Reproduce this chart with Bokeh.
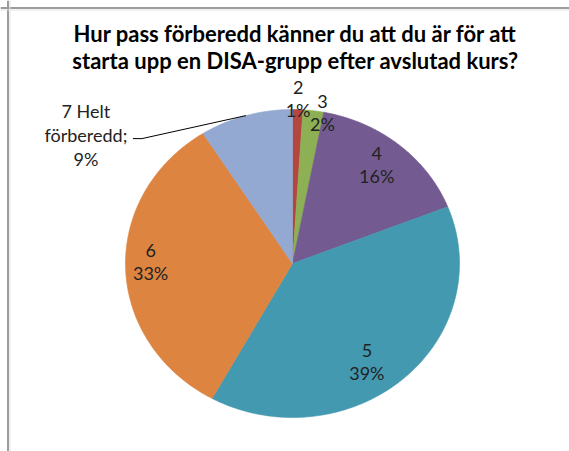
import numpy as np
from bokeh.plotting import figure
from bokeh.models import Range1d, Span
from bokeh.core.properties import value
from bokeh.embed import file_html
from bokeh.resources import INLINE

# ---- data ----
title_lines = ["Hur pass förberedd känner du att du är för att",
               "starta upp en DISA-grupp efter avslutad kurs?"]
categories = ["2", "3", "4", "5", "6", "7 Helt förberedd"]
percents = [1, 2, 16, 39, 33, 9]
colors = ["#B5463F", "#8DB055", "#735B91", "#4399B0", "#DD8440", "#93A9D1"]

# ---- layout / style ----
W, H = 569, 451
cx, cy, rx, ry = 292, 263, 167, 154
FONT = "Lato"
label_r = [1.07, 1.0, 0.80, 0.80, 0.85, 1.0]
label_off = [(0, 0), (9, 2), (-1, -4), (-14, 6), (0, -6), (0, 0)]
line_gap = 23

p = figure(width=W, height=H, x_range=Range1d(0, W), y_range=Range1d(H, 0),
           output_backend="svg", toolbar_location=None,
           x_axis_location=None, y_axis_location=None,
           min_border=0, outline_line_color=None)
p.grid.visible = False
p.background_fill_color = "white"
p.border_fill_color = "white"

# frame (top + left edges visible)
p.add_layout(Span(location=7.5, dimension="height", line_color="#9c9c9c", line_width=2))
p.add_layout(Span(location=7.5, dimension="width", line_color="#9c9c9c", line_width=2))
p.add_layout(Span(location=9.5, dimension="height", line_color="#e4e4e4", line_width=1))
p.add_layout(Span(location=9.5, dimension="width", line_color="#e4e4e4", line_width=1))

# pie slices
frac = np.array(percents, dtype=float) / sum(percents)
ends = np.cumsum(frac) * 2 * np.pi
starts = ends - frac * 2 * np.pi
mids = (starts + ends) / 2
xs, ys = [], []
for a0, a1 in zip(starts, ends):
    t = np.linspace(a0, a1, max(int((a1 - a0) * 90), 4))
    xs.append([cx] + list(cx + rx * np.sin(t)))
    ys.append([cy] + list(cy - ry * np.cos(t)))
p.patches(xs, ys, fill_color=colors, line_color=colors, line_width=0.6)

# labels
tx, ty, tt = [], [], []
for i, (cat, pct) in enumerate(zip(categories, percents)):
    ax = cx + rx * label_r[i] * np.sin(mids[i])
    ay = cy - ry * label_r[i] * np.cos(mids[i])
    if i < len(categories) - 1:
        lines = [cat, f"{pct}%"]
        x0, y0 = ax + label_off[i][0], ay + label_off[i][1]
        gap = line_gap
    else:
        head, tail = cat.rsplit(" ", 1)
        lines = [head, tail + ";", f"{pct}%"]
        elbow = (ax - 104, ay + 23)
        end = (elbow[0] - 9, elbow[1])
        p.line([ax, elbow[0], end[0]], [ay, elbow[1], end[1]], line_color="black", line_width=1)
        x0, y0 = end[0] - 47, end[1] - 4
        gap = 24
    n = len(lines)
    for k, ln in enumerate(lines):
        tx.append(x0)
        ty.append(y0 + (k - (n - 1) / 2) * gap)
        tt.append(ln)
p.text(tx, ty, text=tt, text_font=value(FONT), text_font_size="18px",
       text_color="#222222", text_align="center", text_baseline="middle")

# title
p.text([295, 295], [33, 60], text=title_lines, text_font=value(FONT),
       text_font_size="22px", text_font_style="bold", text_color="black",
       text_align="center", text_baseline="middle")

open("out.html", "w").write(file_html(p, INLINE))
